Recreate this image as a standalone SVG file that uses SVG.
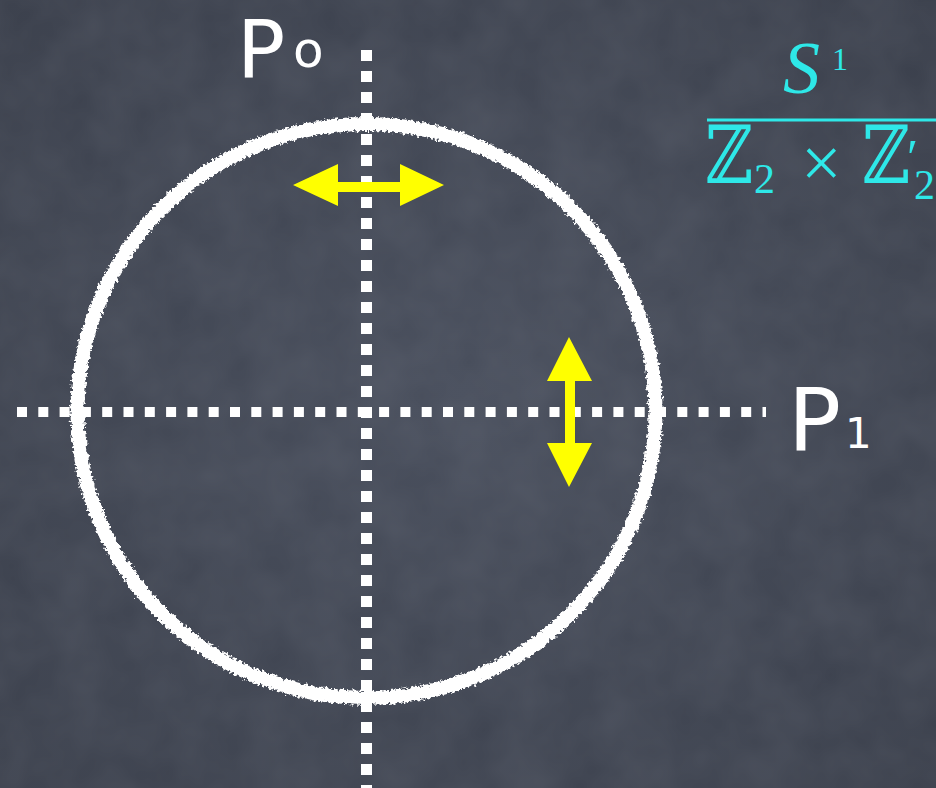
<svg xmlns="http://www.w3.org/2000/svg" width="936" height="788" viewBox="0 0 936 788">
  <defs>
    <radialGradient id="bg" cx="50%" cy="50%" r="75%">
      <stop offset="0" stop-color="#474d5b"/>
      <stop offset="1" stop-color="#383d49"/>
    </radialGradient>
    <filter id="grain" x="0" y="0" width="100%" height="100%">
      <feTurbulence type="fractalNoise" baseFrequency="0.02" numOctaves="3" seed="4" result="n"/>
      <feColorMatrix in="n" type="matrix" values="0 0 0 0 0.5  0 0 0 0 0.52  0 0 0 0 0.58  0 0 0 0.12 0"/>
    </filter>
    <filter id="chalk" x="-10%" y="-10%" width="120%" height="120%">
      <feTurbulence type="fractalNoise" baseFrequency="0.35" numOctaves="2" seed="7" result="t"/>
      <feDisplacementMap in="SourceGraphic" in2="t" scale="7" xChannelSelector="R" yChannelSelector="G"/>
    </filter>
    <style>
      .dash { stroke: #ffffff; fill: none; }
      .arrow { fill: #ffff00; }
      .hand { fill: #ffffff; font-family: "DejaVu Sans", sans-serif; }
      .math { fill: #2ee8e8; font-family: "Liberation Serif", "DejaVu Serif", serif; }
      .bb { fill: #2ee8e8; font-family: "DejaVu Serif", serif; }
    </style>
  </defs>

  <rect width="936" height="788" fill="url(#bg)"/>
  <rect width="936" height="788" filter="url(#grain)"/>

  <g id="connectors">
    <line class="dash" x1="366.5" y1="50" x2="366.5" y2="788" stroke-width="11" stroke-dasharray="11 10"/>
    <line class="dash" x1="17" y1="412" x2="766" y2="412" stroke-width="10" stroke-dasharray="10 11.3"/>
  </g>

  <g id="circle">
    <ellipse cx="366.5" cy="411" rx="289" ry="287" fill="none" stroke="#ffffff" stroke-width="14" filter="url(#chalk)"/>
  </g>

  <g id="arrow-horizontal">
    <polygon class="arrow" points="293,185 338,164 338,182 400,182 400,164 444,185 400,206 400,192 338,192 338,206"/>
  </g>

  <g id="arrow-vertical">
    <polygon class="arrow" points="569,337 592,381 575,381 575,443 592,443 569,487 547,443 565,443 565,381 547,381"/>
  </g>

  <g id="label-P0">
    <text class="hand" x="237" y="78" font-size="80">P</text>
    <text class="hand" x="293" y="67" font-size="50">o</text>
  </g>

  <g id="label-P1">
    <text class="hand" x="788" y="451" font-size="88">P</text>
    <text class="hand" x="845" y="448" font-size="42">1</text>
  </g>

  <g id="quotient">
    <text class="math" x="783" y="93" font-size="74" font-style="italic">S</text>
    <text class="math" x="832" y="70" font-size="32">1</text>
    <rect x="707" y="118.5" width="229" height="3" fill="#2ee8e8"/>
    <text class="bb" transform="translate(705,183) scale(1,1.22)" font-size="66">ℤ</text>
    <text class="math" x="754" y="193" font-size="42">2</text>
    <text class="math" x="801" y="187" font-size="72">×</text>
    <text class="bb" transform="translate(862,183) scale(1,1.22)" font-size="66">ℤ</text>
    <text class="math" x="907" y="174" font-size="50">′</text>
    <text class="math" x="914" y="199" font-size="42">2</text>
  </g>
</svg>
